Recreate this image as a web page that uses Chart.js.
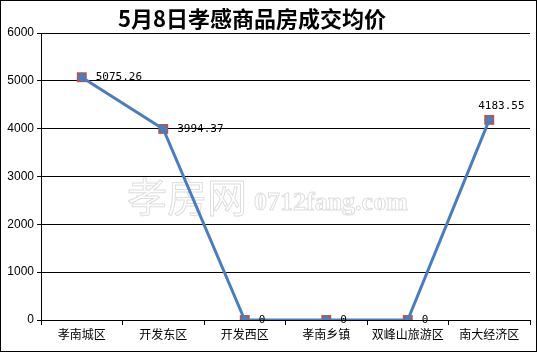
<!DOCTYPE html>
<html>
<head>
<meta charset="utf-8">
<script src="https://cdn.jsdelivr.net/npm/chart.js@4/dist/chart.umd.min.js"></script>
<style>
  html, body { margin: 0; padding: 0; background: #fff; }
  #box { width: 537px; height: 352px; }
</style>
</head>
<body>
<div id="box"><canvas id="grafico" width="537" height="352"></canvas></div>
<script>
// dati
const titolo = "5月8日孝感商品房成交均价";
const zone = ["孝南城区", "开发东区", "开发西区", "孝南乡镇", "双峰山旅游区", "南大经济区"];
const prezzi = [5075.26, 3994.37, 0, 0, 0, 4183.55];
const etichette = ["5075.26", "3994.37", "0", "0", "0", "4183.55"];
const tickY = [0, 1000, 2000, 3000, 4000, 5000, 6000];

// titolo, cornice e filigrana
const decorazioni = {
  id: "decorazioni",
  beforeDatasetsDraw(chart) {
    const c = chart.ctx;
    c.save();
    c.strokeStyle = "#dedede";
    c.lineWidth = 1;
    c.textBaseline = "alphabetic";
    c.font = "40px 'Noto Sans CJK SC'";
    c.strokeText("孝房网", 127, 212);
    c.font = "bold 26px 'Liberation Serif'";
    c.strokeText("0712fang.com", 254, 210);
    c.restore();
  },
  afterDraw(chart) {
    const c = chart.ctx;
    c.save();
    c.fillStyle = "#000";
    c.font = "bold 22px 'Noto Sans CJK SC'";
    c.textAlign = "center";
    c.textBaseline = "middle";
    c.fillText(titolo, 252, 19);
    c.strokeStyle = "#000";
    c.lineWidth = 1;
    c.strokeRect(0.5, 0.5, 536, 351);
    c.restore();
  }
};

// etichette dei valori
const valori = {
  id: "valori",
  afterDatasetsDraw(chart) {
    const c = chart.ctx;
    const meta = chart.getDatasetMeta(1);
    c.save();
    c.fillStyle = "#000";
    c.font = "11px 'DejaVu Sans Mono'";
    c.textBaseline = "middle";
    c.textAlign = "left";
    meta.data.forEach((p, i) => {
      if (i === prezzi.length - 1) {
        c.fillText(etichette[i], p.x - 11, p.y - 14);
      } else {
        c.fillText(etichette[i], p.x + 14, p.y);
      }
    });
    c.restore();
  }
};

new Chart(document.getElementById("grafico"), {
  type: "line",
  data: {
    labels: zone,
    datasets: [
      {
        data: prezzi,
        showLine: false,
        pointStyle: "rect",
        pointRadius: 7,
        pointBackgroundColor: "#C0504D",
        pointBorderWidth: 0,
        order: 2
      },
      {
        data: prezzi,
        borderColor: "#4A7EBB",
        borderWidth: 3,
        pointStyle: "rectRot",
        pointRadius: 5,
        pointBackgroundColor: "#4A7EBB",
        pointBorderWidth: 0,
        order: 1
      }
    ]
  },
  options: {
    responsive: false,
    animation: false,
    layout: { padding: { top: 33, right: 3, left: 0, bottom: 0 } },
    plugins: {
      legend: { display: false },
      tooltip: { enabled: false }
    },
    scales: {
      x: {
        offset: true,
        grid: { offset: true, drawOnChartArea: false, drawTicks: true, tickLength: 5, color: "#000" },
        border: { color: "#000", width: 1 },
        ticks: { color: "#000", font: { family: "'Noto Sans CJK SC'", size: 12 }, padding: 2, maxRotation: 0, autoSkip: false },
        afterFit(s) { s.height = 32; }
      },
      y: {
        min: 0,
        max: 6000,
        afterBuildTicks(s) { s.ticks = tickY.map(v => ({ value: v })); },
        grid: { color: "#000", lineWidth: 1, tickLength: 4 },
        border: { color: "#000", width: 1 },
        ticks: { color: "#000", font: { family: "'Liberation Sans'", size: 12 }, padding: 3, callback: v => String(v) },
        afterFit(s) { s.width = 41; }
      }
    }
  },
  plugins: [decorazioni, valori]
});
</script>
</body>
</html>
